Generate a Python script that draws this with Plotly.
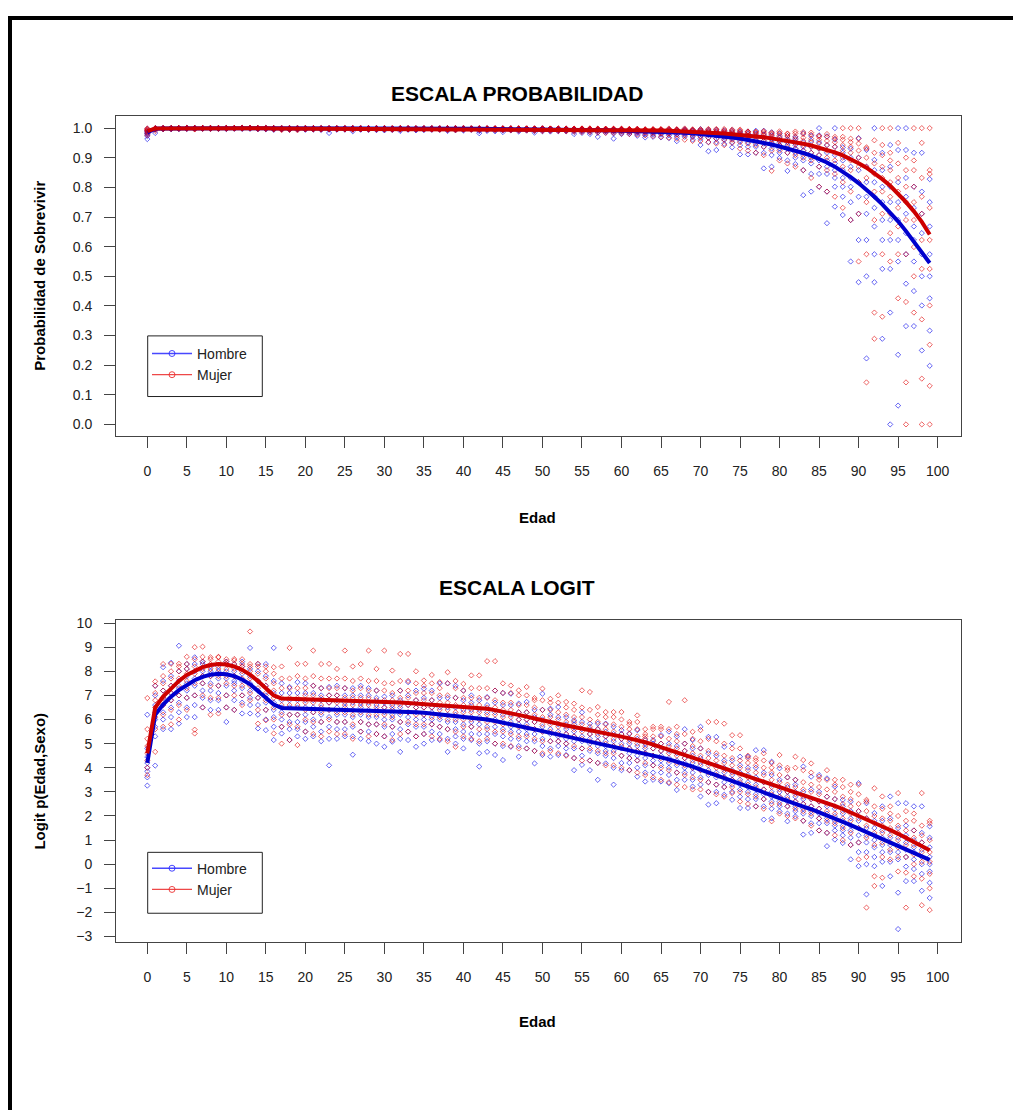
import numpy as np
import plotly.graph_objects as go

W, H = 1013, 1112
FONT = "Liberation Sans, Arial, sans-serif"

edades = list(range(100))
ticks_edad = list(range(0, 101, 5))
ticks_prob = [0.0, 0.1, 0.2, 0.3, 0.4, 0.5, 0.6, 0.7, 0.8, 0.9, 1.0]
ticks_logit = [-3, -2, -1, 0, 1, 2, 3, 4, 5, 6, 7, 8, 9, 10]

# curvas ajustadas en escala logit, edades 0..99
logit_hombre = [
    4.20, 6.20, 6.62, 6.95, 7.22, 7.45, 7.63, 7.77, 7.86, 7.90,
    7.88, 7.80, 7.66, 7.46, 7.20, 6.90, 6.62, 6.48, 6.47, 6.46,
    6.46, 6.45, 6.45, 6.44, 6.44, 6.43, 6.42, 6.41, 6.40, 6.38,
    6.37, 6.35, 6.34, 6.32, 6.30, 6.28, 6.25, 6.22, 6.19, 6.16,
    6.13, 6.09, 6.05, 6.00, 5.94, 5.88, 5.81, 5.74, 5.66, 5.59,
    5.52, 5.45, 5.38, 5.30, 5.23, 5.15, 5.08, 5.01, 4.94, 4.87,
    4.80, 4.73, 4.65, 4.57, 4.50, 4.43, 4.35, 4.26, 4.17, 4.05,
    3.92, 3.80, 3.67, 3.55, 3.43, 3.31, 3.19, 3.07, 2.95, 2.84,
    2.72, 2.61, 2.50, 2.39, 2.28, 2.16, 2.03, 1.90, 1.76, 1.62,
    1.48, 1.34, 1.20, 1.06, 0.92, 0.78, 0.63, 0.48, 0.33, 0.18,
]
logit_mujer = [
    4.60, 6.50, 6.95, 7.30, 7.60, 7.85, 8.03, 8.17, 8.26, 8.30,
    8.28, 8.20, 8.06, 7.86, 7.60, 7.30, 7.00, 6.87, 6.86, 6.86,
    6.85, 6.85, 6.84, 6.84, 6.83, 6.82, 6.81, 6.80, 6.78, 6.76,
    6.74, 6.73, 6.71, 6.69, 6.67, 6.65, 6.63, 6.61, 6.59, 6.57,
    6.55, 6.53, 6.50, 6.45, 6.39, 6.33, 6.26, 6.19, 6.12, 6.04,
    5.96, 5.89, 5.82, 5.75, 5.69, 5.63, 5.56, 5.49, 5.42, 5.36,
    5.29, 5.22, 5.15, 5.06, 4.96, 4.86, 4.75, 4.64, 4.53, 4.42,
    4.31, 4.20, 4.09, 3.98, 3.87, 3.77, 3.66, 3.55, 3.44, 3.33,
    3.22, 3.11, 3.00, 2.89, 2.78, 2.66, 2.54, 2.42, 2.29, 2.15,
    2.01, 1.87, 1.72, 1.57, 1.42, 1.26, 1.10, 0.94, 0.77, 0.58,
]

# observaciones (logit) por edad, una fila por edad
puntos_hombre = [
    [3.26, 3.6, 3.85, 4.0, 4.2, 4.45, 4.8, 6.2],  # 0
    [4.09, 5.3, 5.7, 6.0, 6.3, 6.6, 7.0, 7.4],
    [5.6, 6.0, 6.3, 6.6, 6.9, 7.2, 7.6, 8.17],
    [5.6, 6.1, 6.5, 6.8, 7.1, 7.4, 7.8, 8.35],
    [5.83, 6.3, 6.7, 7.0, 7.3, 7.6, 8.0, 9.06],
    [6.1, 6.5, 6.9, 7.2, 7.5, 7.8, 8.1, 8.3],
    [6.1, 6.6, 7.0, 7.4, 7.7, 8.0, 8.3, 8.58],
    [6.5, 6.9, 7.2, 7.5, 7.8, 8.0, 8.3, 8.4],
    [6.4, 6.8, 7.2, 7.5, 7.8, 7.9, 8.0, 8.2],
    [6.4, 6.8, 7.1, 7.4, 7.7, 7.9, 8.0, 8.2],
    [5.9, 6.5, 7.0, 7.4, 7.7, 8.0, 8.3, 8.4],  # 10
    [6.4, 6.8, 7.2, 7.5, 7.6, 7.8, 8.0, 8.3],
    [6.25, 6.7, 7.0, 7.3, 7.6, 7.9, 8.2, 8.4],
    [6.25, 6.6, 6.9, 7.2, 7.5, 7.8, 8.1, 8.97],
    [5.63, 6.2, 6.6, 6.9, 7.2, 7.6, 8.0, 8.3],
    [5.56, 6.0, 6.4, 6.7, 7.0, 7.4, 7.8, 8.3],
    [5.15, 5.7, 6.1, 6.4, 6.7, 7.1, 7.6, 8.97],
    [5.42, 5.7, 6.0, 6.3, 6.5, 6.8, 7.1, 7.5],
    [5.15, 5.6, 5.9, 6.2, 6.5, 6.8, 7.1, 7.35],
    [5.3, 5.6, 5.9, 6.2, 6.5, 6.8, 7.1, 7.55],
    [5.2, 5.5, 5.9, 6.2, 6.5, 6.8, 7.1, 7.5],  # 20
    [5.3, 5.7, 6.0, 6.3, 6.5, 6.8, 7.1, 7.4],
    [5.1, 5.5, 5.9, 6.2, 6.5, 6.8, 7.0, 7.3],
    [4.1, 5.2, 5.7, 6.1, 6.4, 6.7, 7.0, 7.35],
    [5.2, 5.6, 5.9, 6.2, 6.5, 6.8, 7.0, 7.4],
    [5.3, 5.6, 5.9, 6.2, 6.5, 6.7, 7.0, 7.3],
    [4.54, 5.3, 5.7, 6.1, 6.4, 6.7, 7.0, 7.3],
    [5.2, 5.5, 5.9, 6.2, 6.5, 6.7, 7.0, 7.4],
    [5.1, 5.5, 5.8, 6.1, 6.4, 6.7, 7.0, 7.3],
    [5.0, 5.4, 5.8, 6.1, 6.4, 6.6, 6.9, 7.2],
    [4.87, 5.3, 5.7, 6.0, 6.3, 6.5, 6.7, 6.95],  # 30
    [5.08, 5.4, 5.7, 6.0, 6.2, 6.4, 6.6, 7.0],
    [4.66, 5.2, 5.6, 5.9, 6.2, 6.5, 6.8, 7.2],
    [5.15, 5.5, 5.8, 6.1, 6.3, 6.6, 7.0, 7.55],
    [4.87, 5.3, 5.7, 6.0, 6.3, 6.5, 6.8, 7.2],
    [5.0, 5.4, 5.7, 6.0, 6.2, 6.5, 6.9, 7.28],
    [5.15, 5.5, 5.8, 6.0, 6.3, 6.5, 6.8, 7.2],
    [5.15, 5.4, 5.7, 6.0, 6.2, 6.5, 6.9, 7.5],
    [4.66, 5.2, 5.6, 5.9, 6.2, 6.5, 6.9, 7.5],
    [5.0, 5.3, 5.6, 5.9, 6.2, 6.5, 6.9, 7.4],
    [4.8, 5.2, 5.5, 5.8, 6.1, 6.4, 6.8, 7.2],  # 40
    [5.15, 5.4, 5.7, 5.9, 6.1, 6.4, 6.7, 7.0],
    [4.05, 4.6, 5.0, 5.4, 5.8, 6.1, 6.4, 6.8],
    [4.66, 5.1, 5.4, 5.7, 6.0, 6.3, 6.6, 6.93],
    [4.53, 5.0, 5.4, 5.7, 6.0, 6.3, 6.7, 7.2],
    [4.32, 4.9, 5.3, 5.6, 5.9, 6.2, 6.6, 7.1],
    [4.87, 5.2, 5.5, 5.7, 5.9, 6.2, 6.6, 7.07],
    [4.46, 4.9, 5.2, 5.5, 5.8, 6.0, 6.3, 6.66],
    [4.8, 5.1, 5.4, 5.6, 5.8, 6.0, 6.3, 6.73],
    [4.18, 4.7, 5.1, 5.4, 5.6, 5.9, 6.1, 6.4],
    [4.53, 4.9, 5.2, 5.5, 5.7, 6.0, 6.4, 7.07],  # 50
    [4.46, 4.8, 5.1, 5.4, 5.6, 5.9, 6.2, 6.45],
    [4.53, 4.9, 5.1, 5.3, 5.5, 5.8, 6.1, 6.52],
    [4.53, 4.8, 5.0, 5.2, 5.4, 5.6, 5.8, 6.1],
    [3.9, 4.4, 4.8, 5.1, 5.3, 5.5, 5.8, 5.97],
    [4.12, 4.5, 4.8, 5.1, 5.3, 5.6, 5.9, 6.3],
    [3.9, 4.3, 4.7, 5.0, 5.2, 5.4, 5.6, 5.83],
    [3.5, 4.2, 4.6, 4.9, 5.1, 5.3, 5.6, 5.83],
    [4.18, 4.5, 4.7, 4.9, 5.1, 5.3, 5.5, 5.83],
    [3.3, 4.0, 4.4, 4.7, 4.9, 5.1, 5.4, 5.7],
    [3.9, 4.2, 4.5, 4.8, 5.0, 5.2, 5.4, 5.56],  # 60
    [3.9, 4.2, 4.4, 4.6, 4.8, 5.0, 5.2, 5.42],
    [3.63, 4.0, 4.3, 4.5, 4.7, 4.9, 5.2, 5.56],
    [3.43, 3.8, 4.1, 4.4, 4.6, 4.8, 5.0, 5.15],
    [3.5, 3.8, 4.1, 4.3, 4.5, 4.8, 5.0, 5.15],
    [3.43, 3.8, 4.1, 4.3, 4.5, 4.7, 5.0, 5.35],
    [3.36, 3.7, 4.0, 4.2, 4.4, 4.7, 5.0, 5.5],
    [3.08, 3.5, 3.8, 4.1, 4.3, 4.6, 4.9, 5.3],
    [3.5, 3.8, 4.0, 4.2, 4.4, 4.7, 5.0, 5.6],
    [3.22, 3.5, 3.8, 4.0, 4.2, 4.5, 4.8, 5.15],
    [2.81, 3.3, 3.6, 3.9, 4.1, 4.4, 4.8, 5.7],  # 70
    [2.47, 3.0, 3.4, 3.7, 3.9, 4.2, 4.6, 5.28],
    [2.53, 3.0, 3.3, 3.6, 3.8, 4.1, 4.5, 5.28],
    [2.88, 3.2, 3.4, 3.6, 3.8, 4.0, 4.3, 4.87],
    [2.67, 3.0, 3.3, 3.5, 3.7, 3.9, 4.3, 5.0],
    [2.33, 2.8, 3.1, 3.3, 3.5, 3.8, 4.1, 4.46],
    [2.33, 2.7, 3.0, 3.2, 3.4, 3.7, 4.0, 4.46],
    [2.4, 2.7, 2.9, 3.1, 3.3, 3.6, 4.0, 4.73],
    [1.85, 2.4, 2.7, 2.9, 3.1, 3.4, 3.8, 4.73],
    [1.9, 2.3, 2.6, 2.8, 3.0, 3.3, 3.7, 4.25],
    [2.19, 2.4, 2.6, 2.8, 3.0, 3.2, 3.5, 3.98],  # 80
    [1.78, 2.1, 2.4, 2.6, 2.8, 3.0, 3.2, 3.6],
    [1.98, 2.2, 2.4, 2.6, 2.8, 3.0, 3.3, 3.5],
    [1.23, 1.8, 2.1, 2.3, 2.5, 2.7, 3.0, 4.05],
    [1.3, 1.7, 2.0, 2.2, 2.4, 2.7, 3.1, 3.63],
    [1.4, 1.7, 1.9, 2.1, 2.3, 2.6, 3.0, 3.7],
    [0.75, 1.3, 1.7, 1.9, 2.1, 2.4, 2.8, 3.56],
    [1.02, 1.4, 1.6, 1.8, 2.0, 2.3, 2.7, 3.22],
    [0.88, 1.2, 1.4, 1.6, 1.8, 2.1, 2.4, 2.67],
    [0.2, 0.8, 1.1, 1.4, 1.6, 1.9, 2.2, 2.6],
    [-0.08, 0.5, 0.9, 1.2, 1.5, 1.8, 2.2, 3.36],  # 90
    [-1.25, 0.0, 0.5, 0.9, 1.2, 1.5, 1.9, 2.53],
    [-0.08, 0.3, 0.7, 1.0, 1.2, 1.5, 1.8, 2.12],
    [-0.9, 0.1, 0.5, 0.8, 1.1, 1.4, 1.8, 2.4],
    [-0.5, 0.1, 0.5, 0.8, 1.1, 1.4, 1.9, 2.81],
    [-2.69, -1.18, 0.2, 0.5, 0.8, 1.1, 1.5, 2.53],
    [-0.7, -0.1, 0.3, 0.6, 0.9, 1.2, 1.6, 2.53],
    [-0.7, -0.2, 0.2, 0.5, 0.7, 1.0, 1.4, 2.4],
    [-1.1, -0.4, 0.0, 0.3, 0.6, 0.9, 1.3, 2.4],
    [-1.4, -0.77, -0.3, 0.0, 0.3, 0.7, 1.1, 1.57],
]
puntos_mujer = [
    [3.7, 4.0, 4.3, 4.6, 4.9, 5.2, 5.6, 6.89],  # 0
    [4.66, 5.6, 6.1, 6.5, 6.8, 7.1, 7.4, 7.58],
    [5.7, 6.2, 6.6, 6.9, 7.2, 7.5, 7.8, 8.3],
    [5.8, 6.4, 6.8, 7.1, 7.4, 7.7, 8.0, 8.31],
    [6.0, 6.6, 7.0, 7.4, 7.7, 8.0, 8.2, 8.31],
    [6.4, 6.9, 7.3, 7.6, 7.9, 8.1, 8.3, 8.6],
    [5.42, 5.58, 7.0, 7.5, 7.9, 8.2, 8.5, 9.0],
    [6.5, 7.0, 7.5, 7.8, 8.1, 8.4, 8.6, 9.02],
    [6.2, 6.9, 7.4, 7.8, 8.1, 8.3, 8.5, 8.58],
    [6.25, 6.9, 7.4, 7.8, 8.1, 8.4, 8.6, 8.58],
    [6.5, 7.0, 7.5, 7.8, 8.1, 8.3, 8.4, 8.5],  # 10
    [6.4, 7.0, 7.4, 7.8, 8.1, 8.3, 8.45, 8.51],
    [6.6, 7.0, 7.4, 7.7, 8.0, 8.2, 8.3, 8.5],
    [6.8, 7.1, 7.4, 7.7, 8.0, 8.2, 8.3, 9.65],
    [5.83, 6.4, 6.9, 7.3, 7.6, 7.9, 8.2, 8.31],
    [5.97, 6.4, 6.8, 7.1, 7.4, 7.7, 8.0, 8.2],
    [5.42, 6.0, 6.5, 6.9, 7.2, 7.5, 7.9, 8.17],
    [5.0, 5.7, 6.2, 6.6, 6.9, 7.3, 7.7, 8.2],
    [5.15, 5.8, 6.2, 6.6, 6.9, 7.3, 7.7, 8.97],
    [4.94, 5.7, 6.2, 6.6, 6.9, 7.3, 7.8, 8.31],
    [5.5, 6.0, 6.4, 6.7, 7.0, 7.3, 7.7, 8.31],  # 20
    [5.4, 5.9, 6.3, 6.7, 7.0, 7.4, 7.8, 8.86],
    [5.3, 5.9, 6.3, 6.6, 6.9, 7.3, 7.7, 8.3],
    [5.5, 6.0, 6.4, 6.7, 7.0, 7.3, 7.7, 8.31],
    [5.4, 5.9, 6.3, 6.7, 7.0, 7.3, 7.7, 8.1],
    [5.4, 5.9, 6.3, 6.6, 6.9, 7.3, 7.7, 8.86],
    [5.2, 5.8, 6.2, 6.6, 6.9, 7.2, 7.6, 8.2],
    [5.5, 5.9, 6.3, 6.6, 6.9, 7.3, 7.7, 8.3],
    [5.3, 5.8, 6.2, 6.6, 6.9, 7.2, 7.6, 8.86],
    [5.4, 5.8, 6.2, 6.5, 6.8, 7.2, 7.6, 8.1],
    [5.3, 5.8, 6.2, 6.5, 6.8, 7.2, 7.5, 8.86],  # 30
    [5.15, 5.7, 6.1, 6.5, 6.8, 7.1, 7.5, 8.03],
    [5.4, 5.9, 6.3, 6.6, 6.9, 7.2, 7.6, 8.72],
    [5.5, 5.9, 6.3, 6.6, 6.9, 7.2, 7.6, 8.72],
    [5.3, 5.8, 6.2, 6.5, 6.8, 7.1, 7.5, 8.0],
    [5.4, 5.8, 6.2, 6.5, 6.8, 7.1, 7.4, 7.62],
    [5.3, 5.8, 6.1, 6.5, 6.8, 7.1, 7.5, 7.85],
    [5.2, 5.7, 6.1, 6.4, 6.7, 7.0, 7.3, 7.55],
    [5.1, 5.6, 6.0, 6.4, 6.7, 7.0, 7.5, 7.96],
    [4.87, 5.5, 6.0, 6.3, 6.6, 6.9, 7.3, 7.6],
    [5.3, 5.7, 6.0, 6.3, 6.6, 6.9, 7.2, 7.48],  # 40
    [5.2, 5.7, 6.0, 6.3, 6.6, 6.9, 7.3, 7.83],
    [5.1, 5.6, 6.0, 6.3, 6.6, 6.9, 7.3, 7.83],
    [5.2, 5.6, 5.9, 6.2, 6.5, 6.9, 7.3, 8.42],
    [5.0, 5.5, 5.9, 6.2, 6.5, 6.8, 7.2, 8.42],
    [5.0, 5.5, 5.8, 6.1, 6.4, 6.7, 7.1, 7.5],
    [4.9, 5.4, 5.8, 6.1, 6.4, 6.7, 7.1, 7.41],
    [4.8, 5.3, 5.7, 6.0, 6.3, 6.6, 7.0, 7.21],
    [4.8, 5.3, 5.7, 6.0, 6.3, 6.6, 7.0, 7.35],
    [4.7, 5.2, 5.6, 5.9, 6.2, 6.5, 6.8, 6.89],
    [4.6, 5.1, 5.5, 5.8, 6.1, 6.4, 6.8, 7.28],  # 50
    [4.7, 5.1, 5.5, 5.8, 6.1, 6.4, 6.7, 6.86],
    [4.6, 5.1, 5.4, 5.7, 6.0, 6.3, 6.7, 7.0],
    [4.5, 5.0, 5.4, 5.7, 5.9, 6.2, 6.5, 6.73],
    [4.4, 4.9, 5.3, 5.6, 5.9, 6.1, 6.4, 6.66],
    [4.3, 4.8, 5.2, 5.5, 5.8, 6.1, 6.5, 7.21],
    [4.3, 4.8, 5.1, 5.4, 5.7, 6.0, 6.4, 7.14],
    [4.2, 4.7, 5.1, 5.4, 5.6, 5.9, 6.2, 6.52],
    [4.1, 4.6, 5.0, 5.3, 5.6, 5.8, 6.1, 6.31],
    [4.1, 4.6, 4.9, 5.2, 5.5, 5.8, 6.1, 6.31],
    [4.0, 4.5, 4.9, 5.2, 5.4, 5.7, 6.0, 6.31],  # 60
    [3.9, 4.4, 4.8, 5.1, 5.4, 5.6, 5.8, 5.9],
    [3.8, 4.3, 4.7, 5.0, 5.3, 5.6, 5.9, 6.17],
    [3.7, 4.2, 4.6, 4.9, 5.2, 5.3, 5.4, 5.6],
    [3.6, 4.1, 4.5, 4.8, 5.1, 5.3, 5.6, 5.7],
    [3.5, 4.0, 4.4, 4.7, 5.0, 5.3, 5.6, 5.7],
    [3.4, 3.9, 4.3, 4.6, 4.9, 5.2, 5.6, 6.73],
    [3.3, 3.8, 4.2, 4.5, 4.8, 5.1, 5.4, 5.7],
    [3.2, 3.7, 4.1, 4.4, 4.7, 5.0, 5.4, 6.8],
    [3.1, 3.6, 4.0, 4.3, 4.6, 4.9, 5.2, 5.49],
    [3.1, 3.5, 3.9, 4.2, 4.5, 4.8, 5.1, 5.56],  # 70
    [3.0, 3.4, 3.8, 4.1, 4.4, 4.7, 5.2, 5.9],
    [2.9, 3.3, 3.7, 4.0, 4.3, 4.6, 5.1, 5.9],
    [2.8, 3.2, 3.6, 3.9, 4.2, 4.5, 5.0, 5.83],
    [2.95, 3.2, 3.5, 3.8, 4.1, 4.4, 4.8, 5.35],
    [2.6, 3.0, 3.4, 3.7, 4.0, 4.3, 4.8, 5.35],
    [2.5, 2.9, 3.3, 3.6, 3.9, 4.2, 4.4, 4.5],
    [2.4, 2.8, 3.2, 3.5, 3.8, 4.1, 4.3, 4.4],
    [2.3, 2.7, 3.1, 3.4, 3.7, 4.0, 4.3, 4.6],
    [1.78, 2.5, 2.9, 3.2, 3.5, 3.8, 4.0, 4.2],
    [2.1, 2.5, 2.8, 3.1, 3.4, 3.7, 4.1, 4.53],  # 80
    [2.0, 2.4, 2.7, 3.0, 3.3, 3.6, 3.9, 4.0],
    [1.9, 2.3, 2.6, 2.9, 3.2, 3.5, 4.0, 4.46],
    [1.8, 2.2, 2.5, 2.8, 3.1, 3.4, 3.9, 4.32],
    [1.6, 2.1, 2.4, 2.7, 3.0, 3.3, 3.8, 4.18],
    [1.4, 1.9, 2.3, 2.6, 2.9, 3.2, 3.5, 3.63],
    [1.3, 1.8, 2.2, 2.5, 2.8, 3.1, 3.5, 3.9],
    [1.2, 1.7, 2.1, 2.4, 2.7, 3.0, 3.3, 3.5],
    [1.0, 1.5, 1.9, 2.2, 2.5, 2.8, 3.2, 3.5],
    [0.8, 1.3, 1.8, 2.1, 2.4, 2.7, 3.0, 3.3],
    [0.2, 0.9, 1.5, 1.9, 2.2, 2.5, 2.9, 3.3],  # 90
    [-1.8, 0.3, 1.1, 1.6, 1.9, 2.2, 2.6, 2.67],
    [-0.9, -0.5, 0.8, 1.3, 1.7, 2.0, 2.4, 3.15],
    [-0.56, 0.3, 0.9, 1.3, 1.6, 1.9, 2.3, 2.81],
    [0.2, 0.6, 0.9, 1.2, 1.5, 1.8, 2.1, 2.4],
    [-0.3, 0.3, 0.7, 1.0, 1.3, 1.6, 2.0, 2.95],
    [-1.8, -0.35, 0.3, 0.8, 1.1, 1.4, 1.8, 2.2],
    [-0.5, 0.0, 0.4, 0.8, 1.1, 1.4, 1.8, 2.1],
    [-1.7, -0.6, 0.1, 0.5, 0.9, 1.2, 1.6, 2.95],
    [-1.9, -1.0, -0.4, 0.1, 0.5, 1.0, 1.7, 1.8],
]

# edades con probabilidad observada exactamente 1 o 0 (logit infinito)
p1_hombre = [85, 87, 92, 95, 96]
p1_mujer = [88, 89, 90, 93, 94, 97, 98, 99]
p0_hombre = [94]
p0_mujer = [96, 98, 99]

AZUL_PT = "rgba(0,0,235,0.6)"
ROJO_PT = "rgba(225,0,0,0.6)"
AZUL = "#0000CD"
ROJO = "#CD0000"


def fx(px):
    return px / W


def fy(py):
    return 1 - py / H


def expit(v):
    return 1 / (1 + np.exp(-np.asarray(v, dtype=float)))


def nube(filas):
    xs, ys = [], []
    for edad, fila in zip(edades, filas):
        xs.extend([edad] * len(fila))
        ys.extend(fila)
    return xs, ys


xh, yh = nube(puntos_hombre)
xm, ym = nube(puntos_mujer)

fig = go.Figure()

marker_h = dict(symbol="diamond-open", size=4, color=AZUL_PT, line=dict(width=1, color=AZUL_PT))
marker_m = dict(symbol="diamond-open", size=4, color=ROJO_PT, line=dict(width=1, color=ROJO_PT))

# ---- panel superior: probabilidad
fig.add_trace(go.Scatter(
    x=xh + p1_hombre + p0_hombre,
    y=list(expit(yh)) + [1.0] * len(p1_hombre) + [0.0] * len(p0_hombre),
    mode="markers", marker=marker_h, showlegend=False, xaxis="x", yaxis="y", hoverinfo="skip"))
fig.add_trace(go.Scatter(
    x=xm + p1_mujer + p0_mujer,
    y=list(expit(ym)) + [1.0] * len(p1_mujer) + [0.0] * len(p0_mujer),
    mode="markers", marker=marker_m, showlegend=False, xaxis="x", yaxis="y", hoverinfo="skip"))
fig.add_trace(go.Scatter(x=edades, y=expit(logit_hombre), mode="lines",
                         line=dict(color=AZUL, width=4), showlegend=False, xaxis="x", yaxis="y"))
fig.add_trace(go.Scatter(x=edades, y=expit(logit_mujer), mode="lines",
                         line=dict(color=ROJO, width=4), showlegend=False, xaxis="x", yaxis="y"))

# ---- panel inferior: logit
fig.add_trace(go.Scatter(x=xh, y=yh, mode="markers", marker=marker_h, showlegend=False,
                         xaxis="x2", yaxis="y2", hoverinfo="skip"))
fig.add_trace(go.Scatter(x=xm, y=ym, mode="markers", marker=marker_m, showlegend=False,
                         xaxis="x2", yaxis="y2", hoverinfo="skip"))
fig.add_trace(go.Scatter(x=edades, y=logit_hombre, mode="lines",
                         line=dict(color=AZUL, width=4), showlegend=False, xaxis="x2", yaxis="y2"))
fig.add_trace(go.Scatter(x=edades, y=logit_mujer, mode="lines",
                         line=dict(color=ROJO, width=4), showlegend=False, xaxis="x2", yaxis="y2"))

# leyendas (solo simbolo)
for leg, xa, ya in [("legend", "x", "y"), ("legend2", "x2", "y2")]:
    fig.add_trace(go.Scatter(x=[None], y=[None], mode="lines+markers", name="Hombre",
                             line=dict(color="rgba(40,40,255,0.85)", width=1.3),
                             marker=dict(symbol="circle-open", size=6, color="rgba(40,40,255,0.85)"),
                             legend=leg, xaxis=xa, yaxis=ya))
    fig.add_trace(go.Scatter(x=[None], y=[None], mode="lines+markers", name="Mujer",
                             line=dict(color="rgba(235,40,40,0.85)", width=1.3),
                             marker=dict(symbol="circle-open", size=6, color="rgba(235,40,40,0.85)"),
                             legend=leg, xaxis=xa, yaxis=ya))

tickfont = dict(family=FONT, size=14, color="#222222")
common_x = dict(range=[-3.96, 102.96], tickvals=ticks_edad, ticks="outside", ticklen=11,
                tickcolor="#444444", showline=True, linecolor="#444444", linewidth=1,
                mirror=True, showgrid=False, zeroline=False, tickfont=tickfont,
                ticklabelstandoff=11, domain=[fx(116), fx(961)])
common_y = dict(ticks="outside", ticklen=11, tickcolor="#444444", showline=True,
                linecolor="#444444", linewidth=1, mirror=True, showgrid=False,
                zeroline=False, tickfont=tickfont, ticklabelstandoff=9)

legend_style = dict(xanchor="left", yanchor="top", bgcolor="rgba(0,0,0,0)", borderwidth=0,
                    font=dict(family=FONT, size=14, color="#222222"), itemwidth=40,
                    tracegroupgap=0)

fig.update_layout(
    width=W, height=H,
    margin=dict(l=0, r=0, t=0, b=0),
    paper_bgcolor="white", plot_bgcolor="white",
    showlegend=True,
    xaxis=dict(common_x, anchor="y"),
    yaxis=dict(common_y, anchor="x", range=[-0.04, 1.04], tickvals=ticks_prob,
               tickformat=".1f", domain=[fy(434), fy(112)]),
    xaxis2=dict(common_x, anchor="y2"),
    yaxis2=dict(common_y, anchor="x2", range=[-3.24, 10.135], tickvals=ticks_logit,
                domain=[fy(943.3), fy(618.7)]),
    legend=dict(legend_style, x=fx(147), y=fy(335)),
    legend2=dict(legend_style, x=fx(147), y=fy(853)),
)

# cajas de leyenda y borde exterior
shapes = [
    dict(type="rect", xref="paper", yref="paper", x0=fx(147.7), x1=fx(262.3), y0=fy(394), y1=fy(333),
         line=dict(color="#222222", width=1), fillcolor="white", layer="above"),
    dict(type="rect", xref="paper", yref="paper", x0=fx(147.7), x1=fx(262.3), y0=fy(914), y1=fy(852.7),
         line=dict(color="#222222", width=1), fillcolor="white", layer="above"),
    dict(type="rect", xref="paper", yref="paper", x0=fx(8), x1=1, y0=fy(15), y1=fy(11),
         line=dict(width=0), fillcolor="black"),
    dict(type="rect", xref="paper", yref="paper", x0=fx(8), x1=fx(12), y0=0, y1=fy(11),
         line=dict(width=0), fillcolor="black"),
]
fig.update_layout(shapes=shapes)

bold = dict(family=FONT, color="black", weight="bold")
annots = [
    dict(text="ESCALA PROBABILIDAD", x=fx(516.5), y=fy(89), font=dict(bold, size=21)),
    dict(text="ESCALA LOGIT", x=fx(516.7), y=fy(586), font=dict(bold, size=21)),
    dict(text="Edad", x=fx(537.5), y=fy(516), font=dict(bold, size=15)),
    dict(text="Edad", x=fx(537.5), y=fy(1023), font=dict(bold, size=15)),
    dict(text="Probabilidad de Sobrevivir", x=fx(39.5), y=fy(273), textangle=-90,
         font=dict(bold, size=15)),
    dict(text="Logit p(Edad,Sexo)", x=fx(39.5), y=fy(781), textangle=-90,
         font=dict(bold, size=15)),
]
for a in annots:
    fig.add_annotation(xref="paper", yref="paper", showarrow=False,
                       xanchor="center", yanchor="middle", **a)

fig.write_html("out.html", config={"displayModeBar": False},
               post_script="document.body.style.margin='0';")
